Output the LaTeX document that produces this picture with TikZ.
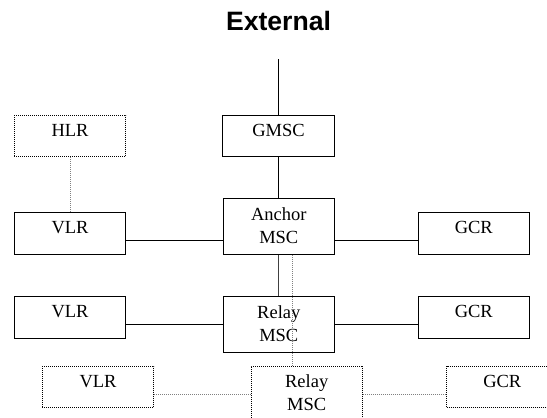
\documentclass[tikz,border=0pt]{standalone}
\usepackage{fontspec}
\setmainfont{Liberation Serif}
\newfontfamily\headfont{Liberation Sans}
\usepackage{tikz}
\usetikzlibrary{positioning}
\usepackage{tkz-graph}
\tikzset{>=stealth}
\tikzset{FaintStyle/.style = {dash pattern=on 1pt off 1pt, line width=0.9pt},
         TallStyle/.style = {minimum height=56pt, text height=36pt, text depth=2.6pt}}

\begin{document}
\begin{tikzpicture}[x=1pt,y=1pt]
		\useasboundingbox (0,0) rectangle (547,418);
		\GraphInit[vstyle=Empty] 
		\tikzset{VertexStyle/.append style = {shape=rectangle,draw,line width=1.1pt,inner sep=0pt,
		  minimum width=111.5pt,minimum height=41.5pt,text height=13pt,text depth=12.5pt,
		  align=center,font=\fontsize{18.5pt}{23pt}\selectfont}} 
		\node[anchor=base,font=\headfont\bfseries\fontsize{26.6pt}{30pt}\selectfont] (title) at (278.5,387) {External};
		\coordinate (ext) at (278.5,358.7);
		\Vertex[x=278.5,y=281.8,L=GMSC]{gmsc}
		\Vertex[x=70,y=184.5,L=VLR]{vlrA}
		\Vertex[x=473.8,y=184.5,L=GCR]{gcrA}
		\Vertex[x=70,y=100.5,L=VLR]{vlrB}
		\Vertex[x=473.8,y=100.5,L=GCR]{gcrB}
		\begin{scope}[VertexStyle/.append style = {TallStyle}]
		  \Vertex[x=278.8,y=191.6,L={Anchor\\MSC}]{anchor}
		  \Vertex[x=278.8,y=93.5,L={Relay\\MSC}]{relayA}
		\end{scope}
		\begin{scope}[VertexStyle/.append style = {FaintStyle}]
		  \Vertex[x=70,y=281.8,L=HLR]{hlr}
		  \Vertex[x=98,y=30.8,L=VLR]{vlrC}
		  \Vertex[x=502.3,y=30.8,L=GCR]{gcrC}
		  \begin{scope}[VertexStyle/.append style = {TallStyle}]
		    \Vertex[x=306.7,y=24,L={Relay\\MSC}]{relayB}
		  \end{scope}
		\end{scope}
		\begin{scope}[line width=1.1pt]
		  \draw        (ext)--(gmsc.north);
		  \draw        (gmsc.south)--(gmsc.south |- anchor.north);
		  \draw        ([yshift=-7.2pt]vlrA.east)--([yshift=-7.2pt]vlrA.east -| anchor.west);
		  \draw        ([yshift=-7.2pt]gcrA.west)--([yshift=-7.2pt]gcrA.west -| anchor.east);
		  \draw[black!75] (anchor.south)--(relayA.north);
		  \draw        ([yshift=-7.2pt]vlrB.east)--([yshift=-7.2pt]vlrB.east -| relayA.west);
		  \draw        ([yshift=-7.2pt]gcrB.west)--([yshift=-7.2pt]gcrB.west -| relayA.east);
		\end{scope}
		\begin{scope}[FaintStyle,gray]
		  \draw        (hlr.south)--(hlr.south |- vlrA.north);
		  \draw        ([xshift=13.9pt]anchor.south)--([xshift=-14pt]relayB.north);
		  \draw        ([yshift=-6.8pt]vlrC.east)--([yshift=-6.8pt]vlrC.east -| relayB.west);
		  \draw        ([yshift=-6.8pt]gcrC.west)--([yshift=-6.8pt]gcrC.west -| relayB.east);
		\end{scope}
	\end{tikzpicture}
\end{document}
